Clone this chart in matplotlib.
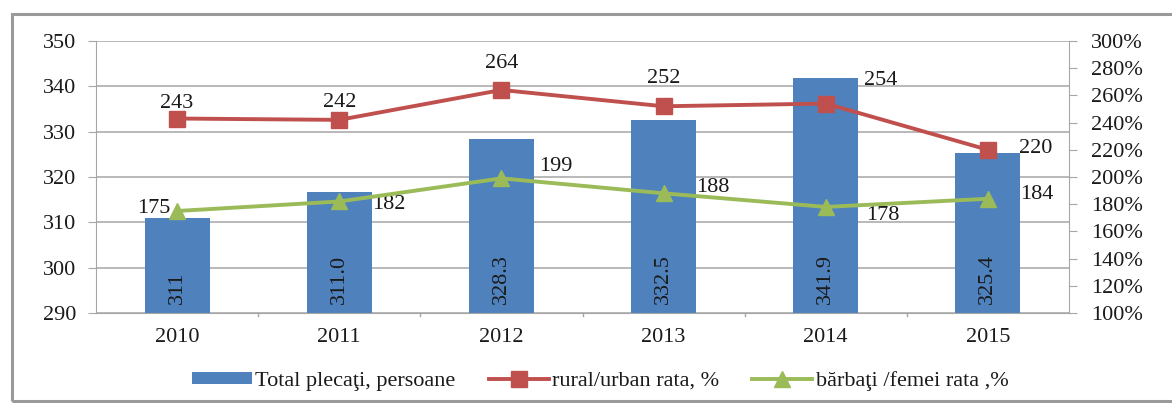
import matplotlib
matplotlib.use("Agg")
import matplotlib.pyplot as plt
from matplotlib.patches import Rectangle
from matplotlib.ticker import FuncFormatter

plt.rcParams['font.family'] = ['Liberation Serif', 'DejaVu Serif']

years = ['2010', '2011', '2012', '2013', '2014', '2015']
total_plecati = [311.0, 316.8, 328.3, 332.5, 341.9, 325.4]
total_labels = ['311', '311.0', '328.3', '332.5', '341.9', '325.4']
rural_urban = [243, 242, 264, 252, 254, 220]
barbati_femei = [175, 182, 199, 188, 178, 184]

bar_color = '#4F81BD'
red = '#C0504D'
green = '#9BBB59'
grid_color = '#A6A6A6'
txt = '#1a1a1a'
fs = 16

fig = plt.figure(figsize=(11.72, 4.03), dpi=100)
fig.patches.append(Rectangle((12 / 1172, 1 - 401 / 403), 1.2, (401 - 14) / 403,
                             transform=fig.transFigure, fill=False,
                             edgecolor='#9a9a9a', linewidth=2.2, zorder=0))

ax = fig.add_axes([96 / 1172, 1 - 313 / 403, (1069 - 96) / 1172, (313 - 41) / 403])
x = list(range(len(years)))
ax.bar(x, [v - 290 for v in total_plecati], bottom=290, width=0.4,
       color=bar_color, zorder=2, label='Total plecaţi, persoane')
ax.set_ylim(290, 350)
ax.set_xlim(-0.5, 5.5)
ax.set_yticks(range(290, 351, 10))
ax.yaxis.grid(True, color=grid_color, linewidth=1.1, zorder=0)
ax.set_axisbelow(True)
for s in ['top', 'right']:
    ax.spines[s].set_visible(False)
ax.spines['left'].set_color(grid_color)
ax.spines['bottom'].set_color(grid_color)
ax.tick_params(axis='y', length=6, color=grid_color, labelsize=fs, pad=8, labelcolor=txt)
ax.set_xticks(x)
ax.set_xticklabels(years, fontsize=fs, color=txt)
ax.tick_params(axis='x', length=0, pad=11)
for b in [0.5, 1.5, 2.5, 3.5, 4.5]:
    ax.plot([b, b], [290, 289.3], color=grid_color, lw=1, clip_on=False)

for xi, v, lab in zip(x, total_plecati, total_labels):
    ax.text(xi, 292.0, lab, rotation=90, ha='center', va='bottom',
            fontsize=fs, color=txt, zorder=5)

ax2 = ax.twinx()
ax2.set_ylim(100, 300)
ax2.set_yticks(range(100, 301, 20))
ax2.yaxis.set_major_formatter(FuncFormatter(lambda v, p: f'{int(v)}%'))
ax2.tick_params(axis='y', length=6, color=grid_color, labelsize=fs, pad=10, labelcolor=txt)
for s in ['top', 'left', 'bottom']:
    ax2.spines[s].set_visible(False)
ax2.spines['right'].set_color(grid_color)

ax2.plot(x, rural_urban, color=red, lw=2.8, marker='s', markersize=11,
         label='rural/urban rata, %', zorder=4)
ax2.plot(x, barbati_femei, color=green, lw=2.8, marker='^', markersize=11,
         label='bărbaţi /femei rata ,%', zorder=4)

# label offsets in pixels (dx, dy) and horizontal alignment
red_off = [(0, 15), (0, 17), (0, 26), (0, 28), (38, 23), (31, 1)]
red_ha = ['center', 'center', 'center', 'center', 'left', 'left']
for xi, v, off, ha in zip(x, rural_urban, red_off, red_ha):
    ax2.annotate(str(v), (xi, v), xytext=off, textcoords='offset pixels',
                 ha=ha, va='center', fontsize=fs, color=txt)

grn_off = [(-7, 2), (33, -3), (38, 12), (33, 6), (40, -9), (32, 4)]
grn_ha = ['right', 'left', 'left', 'left', 'left', 'left']
for xi, v, off, ha in zip(x, barbati_femei, grn_off, grn_ha):
    ax2.annotate(str(v), (xi, v), xytext=off, textcoords='offset pixels',
                 ha=ha, va='center', fontsize=fs, color=txt)

h1, l1 = ax.get_legend_handles_labels()
h2, l2 = ax2.get_legend_handles_labels()
fig.legend(h1 + h2, l1 + l2, loc='center', bbox_to_anchor=(600 / 1172, 1 - 381 / 403),
           ncol=3, frameon=False, fontsize=fs, handlelength=2.7, handleheight=0.5,
           columnspacing=1.5, handletextpad=0.15, labelcolor=txt)

fig.savefig('out.png', dpi=100)
